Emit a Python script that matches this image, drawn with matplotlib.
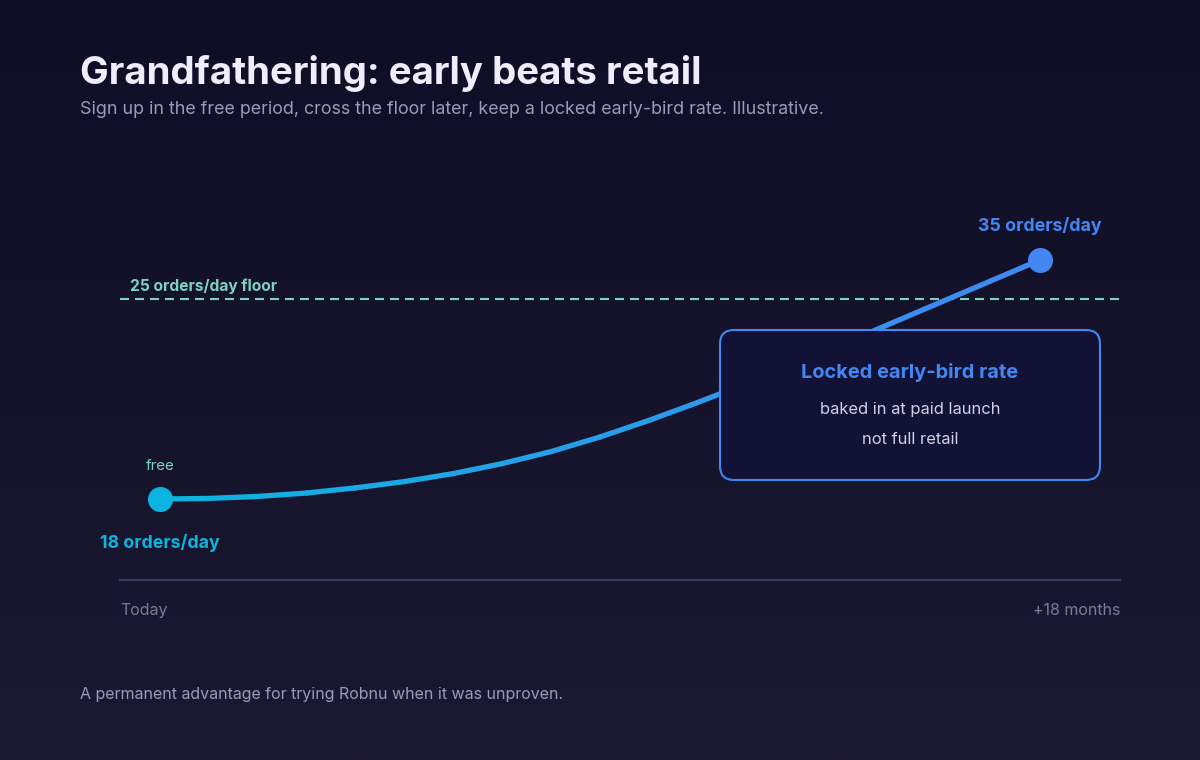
import numpy as np
import matplotlib
matplotlib.use("Agg")
import matplotlib.pyplot as plt
from matplotlib.collections import LineCollection
from matplotlib.colors import LinearSegmentedColormap
from matplotlib.patches import FancyBboxPatch
from matplotlib.transforms import IdentityTransform


W, H = 1200, 760

# illustrative trajectory
MONTHS = [0, 1, 2, 3, 4, 5, 6, 7, 8, 9, 10, 11, 12, 13, 14, 15, 16, 17, 18]
ORDERS = [18.0, 18.02, 18.09, 18.21, 18.39, 18.61, 18.89, 19.24, 19.66, 20.17,
          20.75, 21.38, 22.04, 22.73, 23.45, 24.18, 24.91, 29.67, 35.0]
FLOOR = 25
X_LABELS = ["Today", "+18 months"]

TITLE = "Grandfathering: early beats retail"
SUBTITLE = ("Sign up in the free period, cross the floor later, "
            "keep a locked early-bird rate. Illustrative.")
FOOTER = "A permanent advantage for trying Robnu when it was unproven."
BOX_TITLE = "Locked early-bird rate"
BOX_LINES = ["baked in at paid launch", "not full retail"]

BG_TOP = "#0f0e27"
BG_BOTTOM = "#1b1931"
CYAN = "#0bb5df"
BLUE = "#4487f2"
TEAL = "#7dd3c0"
TITLE_COLOR = "#eeedf9"
MUTED = "#9c99bf"
AXIS_TEXT = "#7c799d"
AXIS_LINE = "#3c3864"

FONT = "Inter"
plt.rcParams["font.family"] = [FONT, "DejaVu Sans"]


def fx(x):
    return x / W


def fy(y):
    return 1 - y / H


# the picture stretches the part below the floor (illustrative, not linear)
def to_height(v):
    v = np.asarray(v, dtype=float)
    return np.where(v < FLOOR, 81 + (v - 18) * 200 / 7, 281 + (v - FLOOR) * 3.9)


def from_height(h):
    h = np.asarray(h, dtype=float)
    return np.where(h < 281, 18 + (h - 81) * 7 / 200, FLOOR + (h - 281) / 3.9)


fig = plt.figure(figsize=(W / 100, H / 100), dpi=100)

bg = fig.add_axes([0, 0, 1, 1], zorder=-5)
grad = np.linspace(0, 1, 256).reshape(-1, 1)
bg_cmap = LinearSegmentedColormap.from_list("bg", [BG_TOP, BG_BOTTOM])
bg.imshow(grad, aspect="auto", cmap=bg_cmap, extent=[0, 1, 0, 1], origin="upper")
bg.set_axis_off()

ax = fig.add_axes([fx(120), fy(580), 1000 / W, 430 / H])
ax.set_facecolor("none")
ax.set_yscale("function", functions=(to_height, from_height))
ax.set_xlim(-40 / 880 * 18, 960 / 880 * 18)
ax.set_ylim(float(from_height(0)), float(from_height(430)))
ax.set_xticks([])
ax.set_yticks([])
ax.tick_params(which="both", length=0, labelbottom=False, labelleft=False)
for side in ["top", "left", "right"]:
    ax.spines[side].set_visible(False)
ax.spines["bottom"].set_color(AXIS_LINE)
ax.spines["bottom"].set_linewidth(1.5)

# floor
ax.axhline(FLOOR, color=TEAL, lw=1.5, dashes=(4.3, 2.9), zorder=1)
ax.annotate(f"{FLOOR} orders/day floor", xy=(0.01, FLOOR),
            xycoords=("axes fraction", "data"), xytext=(0, 6),
            textcoords="offset points", ha="left", va="baseline",
            fontsize=11.2, fontweight="bold", color=TEAL)

# gradient curve
pts = np.column_stack([MONTHS, ORDERS])
segs = np.stack([pts[:-1], pts[1:]], axis=1)
line_cmap = LinearSegmentedColormap.from_list("line", [CYAN, BLUE])
mids = (np.array(MONTHS[:-1]) + np.array(MONTHS[1:])) / 2 / MONTHS[-1]
lc = LineCollection(segs, colors=line_cmap(mids), linewidths=3.8,
                    capstyle="round", joinstyle="round", zorder=2)
ax.add_collection(lc)

ax.plot(MONTHS[0], ORDERS[0], "o", ms=17, color=CYAN, clip_on=False, zorder=3)
ax.plot(MONTHS[-1], ORDERS[-1], "o", ms=17, color=BLUE, clip_on=False, zorder=3)

ax.annotate("free", xy=(MONTHS[0], ORDERS[0]), xytext=(0, 21),
            textcoords="offset points", ha="center", va="baseline",
            fontsize=10.9, color=TEAL)
ax.annotate(f"{ORDERS[0]:.0f} orders/day", xy=(MONTHS[0], ORDERS[0]),
            xytext=(0, -35), textcoords="offset points", ha="center",
            va="baseline", fontsize=12.8, fontweight="bold", color=CYAN)
ax.annotate(f"{ORDERS[-1]:.0f} orders/day", xy=(MONTHS[-1], ORDERS[-1]),
            xytext=(0, 21), textcoords="offset points", ha="center",
            va="baseline", fontsize=12.8, fontweight="bold", color=BLUE)

ax.text(0, -0.07, X_LABELS[0], transform=ax.transAxes, ha="left",
        va="center", fontsize=11.5, color=AXIS_TEXT)
ax.text(1, -0.07, X_LABELS[1], transform=ax.transAxes, ha="right",
        va="center", fontsize=11.5, color=AXIS_TEXT)

# callout box
box = FancyBboxPatch((720, H - 480), 380, 150,
                     boxstyle="round,pad=0,rounding_size=14",
                     transform=IdentityTransform(), facecolor="#121236",
                     edgecolor=BLUE, linewidth=1.5, zorder=5)
fig.add_artist(box)
fig.text(fx(910), fy(378), BOX_TITLE, ha="center", va="baseline",
         fontsize=14.4, fontweight="bold", color=BLUE, zorder=6)
fig.text(fx(910), fy(414), BOX_LINES[0], ha="center", va="baseline",
         fontsize=11.9, color="#d2d0e8", zorder=6)
fig.text(fx(910), fy(444), BOX_LINES[1], ha="center", va="baseline",
         fontsize=11.9, color="#d2d0e8", zorder=6)

fig.text(fx(80), fy(84), TITLE, ha="left", va="baseline", fontsize=27.6,
         fontweight="bold", color=TITLE_COLOR)
fig.text(fx(80), fy(114), SUBTITLE, ha="left", va="baseline", fontsize=12.9,
         color=MUTED)
fig.text(fx(80), fy(699), FOOTER, ha="left", va="baseline", fontsize=11.5,
         color=MUTED)

fig.savefig("out.png", dpi=100, facecolor=BG_BOTTOM)
